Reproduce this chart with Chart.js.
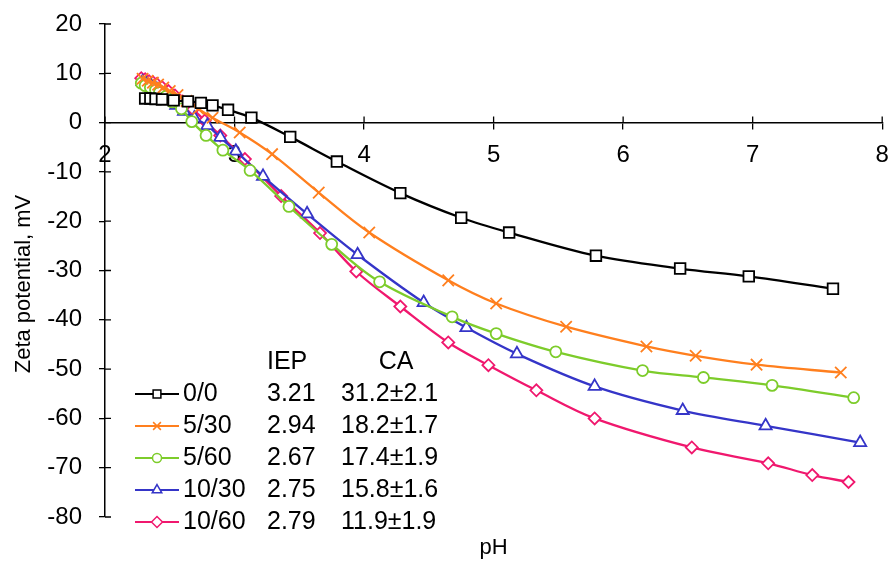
<!DOCTYPE html>
<html>
<head>
<meta charset="utf-8">
<script src="https://cdn.jsdelivr.net/npm/chart.js@4/dist/chart.umd.min.js"></script>
<style>
    html, body { margin: 0; padding: 0; background: #fff; }
    canvas { display: block; }
</style>
</head>
<body>
<canvas id="zetaChart" width="892" height="563"></canvas>
<script>
// 시리즈 이름 / 표 값
const seriesLabels = ['0/0', '5/30', '5/60', '10/30', '10/60'];
const iepValues = ['3.21', '2.94', '2.67', '2.75', '2.79'];
const caValues = ['31.2±2.1', '18.2±1.7', '17.4±1.9', '15.8±1.6', '11.9±1.9'];

// 축 눈금
const xTicks = [2, 3, 4, 5, 6, 7, 8];
const yTicks = [20, 10, 0, -10, -20, -30, -40, -50, -60, -70, -80];

// 0/0
const ph00 = [2.31, 2.35, 2.39, 2.44, 2.53, 2.64, 2.74, 2.83, 2.95, 3.13, 3.43, 3.79, 4.28, 4.75, 5.12, 5.79, 6.44, 6.97, 7.62];
const zeta00 = [4.9, 4.9, 4.8, 4.7, 4.5, 4.3, 4.0, 3.5, 2.6, 1.0, -2.9, -7.9, -14.3, -19.3, -22.3, -27.0, -29.6, -31.2, -33.7];

// 5/30
const ph530 = [2.29, 2.33, 2.37, 2.41, 2.45, 2.50, 2.56, 2.63, 2.72, 2.83, 3.04, 3.29, 3.65, 4.04, 4.65, 5.02, 5.56, 6.18, 6.56, 7.03, 7.68];
const zeta530 = [8.9, 8.5, 8.1, 7.7, 7.1, 6.4, 5.6, 4.4, 2.8, 1.0, -2.0, -6.4, -14.2, -22.3, -32.0, -36.7, -41.4, -45.4, -47.3, -49.1, -50.7];

// 5/60
const ph560 = [2.28, 2.31, 2.35, 2.39, 2.42, 2.47, 2.52, 2.59, 2.67, 2.78, 2.91, 3.12, 3.42, 3.75, 4.12, 4.68, 5.02, 5.48, 6.15, 6.62, 7.15, 7.78];
const zeta560 = [8.0, 7.5, 7.1, 6.6, 6.1, 5.3, 4.2, 2.8, 0.2, -2.6, -5.6, -9.7, -17.0, -24.7, -32.3, -39.4, -42.8, -46.5, -50.3, -51.7, -53.3, -55.8];

// 10/30
const ph1030 = [2.29, 2.32, 2.36, 2.40, 2.44, 2.49, 2.55, 2.61, 2.69, 2.79, 2.89, 3.01, 3.22, 3.56, 3.95, 4.46, 4.79, 5.18, 5.78, 6.46, 7.10, 7.83];
const zeta1030 = [8.3, 7.9, 7.3, 6.7, 5.9, 4.9, 3.5, 2.3, 0.9, -0.6, -3.0, -5.8, -10.9, -18.5, -26.8, -36.5, -41.6, -46.9, -53.5, -58.4, -61.5, -64.9];

// 10/60
const ph1060 = [2.28, 2.31, 2.34, 2.37, 2.40, 2.44, 2.49, 2.54, 2.60, 2.68, 2.77, 2.89, 3.08, 3.36, 3.66, 3.94, 4.28, 4.65, 4.96, 5.33, 5.78, 6.53, 7.12, 7.46, 7.74];
const zeta1060 = [9.0, 8.8, 8.4, 8.2, 7.8, 7.2, 6.4, 5.5, 4.3, 2.7, 0.4, -2.6, -7.4, -14.9, -22.4, -30.2, -37.3, -44.6, -49.2, -54.3, -60.0, -65.9, -69.1, -71.5, -72.9];

const FONT = "'Liberation Sans', Arial, sans-serif";

function toPoints(xs, ys) {
    return xs.map((x, i) => ({ x: x, y: ys[i] }));
}

// 시리즈 스타일
const seriesStyles = [
    { color: '#000000', pointStyle: 'rect', radius: 7.5 },
    { color: '#FF7F1E', pointStyle: 'crossRot', radius: 8 },
    { color: '#7DCC2B', pointStyle: 'circle', radius: 5.5 },
    { color: '#3535C8', pointStyle: 'triangle', radius: 7 },
    { color: '#F0186E', pointStyle: 'rectRot', radius: 6 }
];

const seriesData = [
    toPoints(ph00, zeta00),
    toPoints(ph530, zeta530),
    toPoints(ph560, zeta560),
    toPoints(ph1030, zeta1030),
    toPoints(ph1060, zeta1060)
];

// 축 안쪽 눈금 + 범례 표 + 축 제목
const extrasPlugin = {
    id: 'extras',
    afterDraw(chart) {
        const ctx = chart.ctx;
        const area = chart.chartArea;
        const xs = chart.scales.x;
        const ys = chart.scales.y;
        const y0 = ys.getPixelForValue(0);

        ctx.save();
        ctx.strokeStyle = '#000';
        ctx.lineWidth = 1.3;
        ctx.beginPath();
        xTicks.forEach(v => {
            const px = xs.getPixelForValue(v);
            ctx.moveTo(px, y0 - 6);
            ctx.lineTo(px, y0);
        });
        yTicks.forEach(v => {
            const py = ys.getPixelForValue(v);
            ctx.moveTo(area.left, py);
            ctx.lineTo(area.left + 6, py);
        });
        ctx.stroke();

        // 축 제목
        ctx.fillStyle = '#000';
        ctx.font = '22px ' + FONT;
        ctx.textAlign = 'center';
        ctx.textBaseline = 'middle';
        ctx.fillText('pH', (area.left + area.right) / 2, 548);
        ctx.save();
        ctx.translate(24, 284);
        ctx.rotate(-Math.PI / 2);
        ctx.fillText('Zeta potential, mV', 0, 0);
        ctx.restore();

        // 범례 표
        const rowY = [394, 426, 458, 490, 522];
        ctx.font = '25px ' + FONT;
        ctx.textBaseline = 'middle';
        ctx.textAlign = 'left';
        ctx.fillText('IEP', 267, 362);
        ctx.textAlign = 'center';
        ctx.fillText('CA', 396, 362);

        chart.data.datasets.forEach((ds, i) => {
            const y = rowY[i];
            ctx.strokeStyle = ds.borderColor;
            ctx.lineWidth = 2;
            ctx.beginPath();
            ctx.moveTo(135, y);
            ctx.lineTo(179, y);
            ctx.stroke();
            ctx.fillStyle = '#fff';
            ctx.lineWidth = 1.5;
            Chart.helpers.drawPoint(ctx, {
                pointStyle: ds.pointStyle,
                radius: ds.pointStyle === 'circle' ? 4.5 : 5.5,
                rotation: 0,
                borderWidth: 1.5
            }, 157, y);

            ctx.fillStyle = '#000';
            ctx.textAlign = 'left';
            ctx.fillText(seriesLabels[i], 183, y);
            ctx.fillText(iepValues[i], 267, y);
            ctx.fillText(caValues[i], 341, y);
        });
        ctx.restore();
    }
};

document.addEventListener('DOMContentLoaded', function() {
    const canvas = document.getElementById('zetaChart');

    new Chart(canvas, {
        type: 'line',
        data: {
            datasets: seriesData.map((pts, i) => ({
                label: seriesLabels[i],
                data: pts,
                borderColor: seriesStyles[i].color,
                borderWidth: 2.3,
                pointStyle: seriesStyles[i].pointStyle,
                pointRadius: seriesStyles[i].radius,
                pointBorderColor: seriesStyles[i].color,
                pointBackgroundColor: '#ffffff',
                pointBorderWidth: 1.8,
                tension: 0.35,
                fill: false
            }))
        },
        options: {
            responsive: false,
            animation: false,
            devicePixelRatio: 1,
            layout: {
                padding: { left: 0, right: 9, top: 24, bottom: 46 }
            },
            plugins: {
                legend: { display: false },
                tooltip: { enabled: false }
            },
            scales: {
                x: {
                    type: 'linear',
                    position: { y: 0 },
                    min: 2,
                    max: 8,
                    afterBuildTicks: scale => {
                        scale.ticks = xTicks.map(v => ({ value: v }));
                    },
                    afterFit: scale => {
                        scale.paddingLeft = 0;
                        scale.paddingRight = 0;
                    },
                    ticks: {
                        color: '#000',
                        padding: 12,
                        font: { size: 24, family: FONT }
                    },
                    grid: {
                        display: true,
                        drawOnChartArea: false,
                        drawTicks: true,
                        tickLength: 6,
                        color: '#000',
                        lineWidth: 1.3
                    },
                    border: { display: true, color: '#000', width: 1.5 }
                },
                y: {
                    type: 'linear',
                    position: 'left',
                    min: -80,
                    max: 20,
                    afterBuildTicks: scale => {
                        scale.ticks = yTicks.map(v => ({ value: v }));
                    },
                    afterFit: scale => {
                        scale.width = 105;
                        scale.paddingTop = 0;
                        scale.paddingBottom = 0;
                    },
                    ticks: {
                        color: '#000',
                        padding: 17,
                        font: { size: 24, family: FONT }
                    },
                    grid: {
                        display: true,
                        drawOnChartArea: false,
                        drawTicks: true,
                        tickLength: 6,
                        color: '#000',
                        lineWidth: 1.3
                    },
                    border: { display: true, color: '#000', width: 1.5 }
                }
            }
        },
        plugins: [extrasPlugin]
    });
});
</script>
</body>
</html>
